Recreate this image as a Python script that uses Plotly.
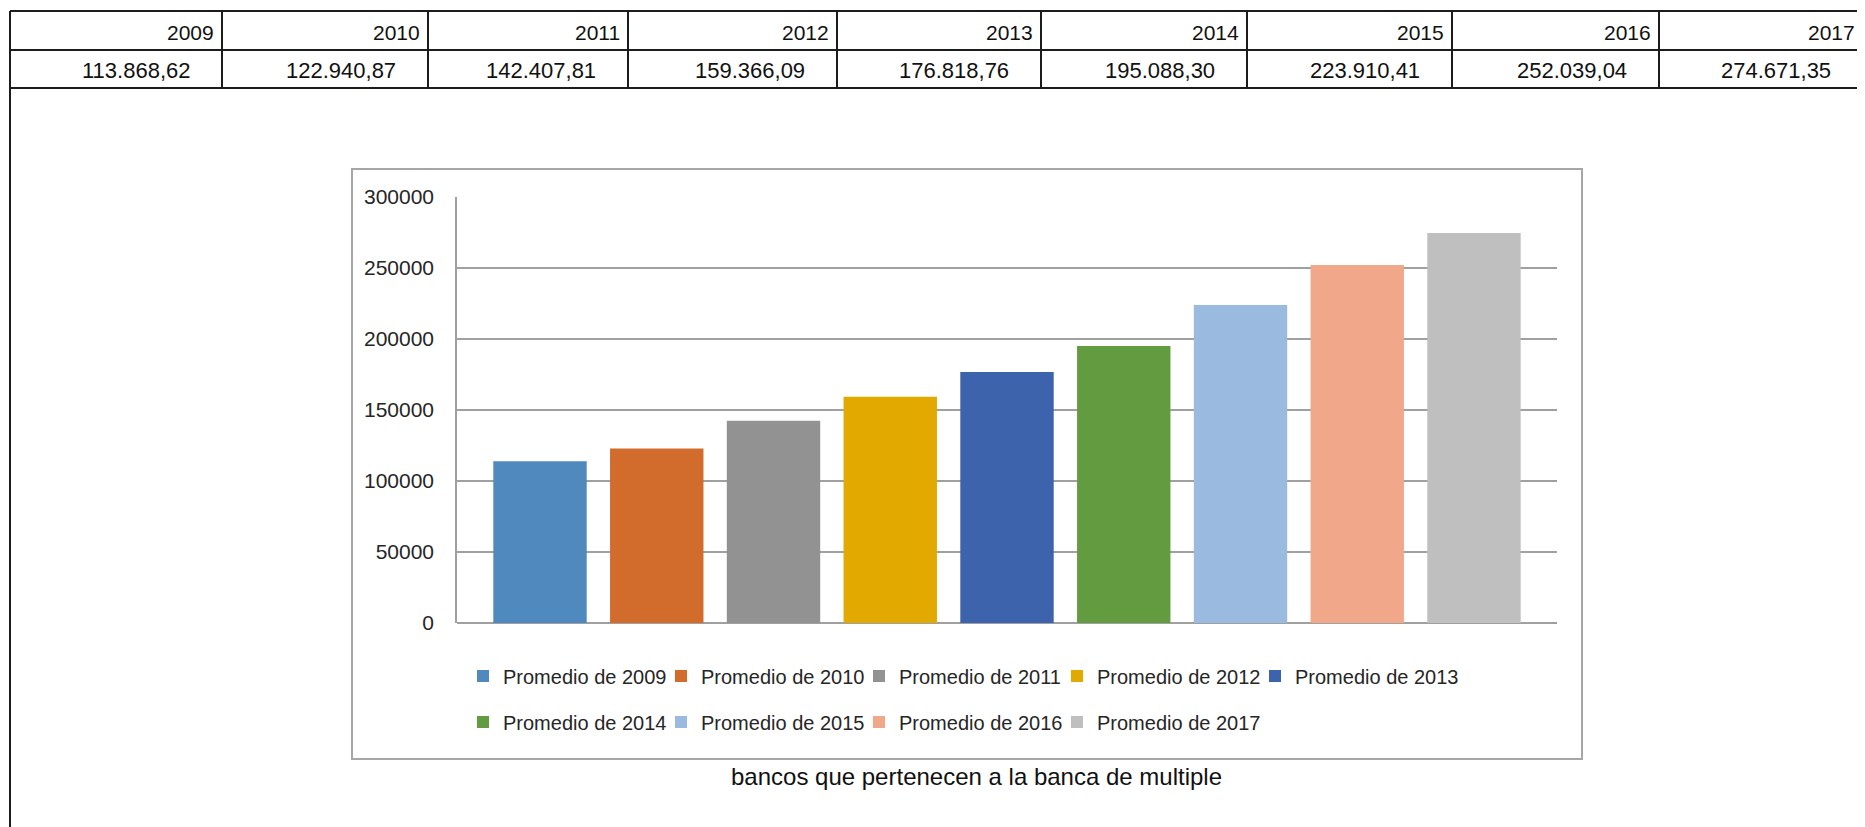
import plotly.graph_objects as go

# ---------------- data ----------------
years = ["2009", "2010", "2011", "2012", "2013", "2014", "2015", "2016", "2017"]
promedios = [113868.62, 122940.87, 142407.81, 159366.09, 176818.76,
             195088.30, 223910.41, 252039.04, 274671.35]
series_names = ["Promedio de " + y for y in years]
x_label = "bancos que pertenecen a la banca de multiple"
y_ticks = [0, 50000, 100000, 150000, 200000, 250000, 300000]

# ---------------- style ----------------
colors = ["#4f89bd", "#d26c2c", "#929292", "#e2aa00", "#3c63ac",
          "#629b40", "#9bbae0", "#f1a88a", "#bfbfbf"]
FONT = "Liberation Sans, Arial, sans-serif"
TXT = "#262626"
GRID = "#a0a0a0"

OFF = 8                       # page body margin
W, H = 1865 - OFF, 827 - OFF  # figure size
PL, PR, PT, PB = 457, 1557, 197, 623   # plot area in page pixels


def px(x):
    return (x - PL) / (PR - PL)


def py(y):
    return (PB - y) / (PB - PT)


def fmt_es(v):
    s = f"{v:,.2f}"
    return s.replace(",", "X").replace(".", ",").replace("X", ".")


# legend layout: 5 entries on the first row, 4 on the second
LEG_X0, LEG_STEP = 463, 198
LEG_ROWS_Y = [676, 722]
PER_ROW = 5

legend_common = dict(orientation="h", xref="paper", yref="paper",
                     xanchor="left", yanchor="middle",
                     font=dict(family=FONT, size=20, color=TXT),
                     bgcolor="rgba(0,0,0,0)", borderwidth=0,
                     itemclick=False, itemdoubleclick=False)

fig = go.Figure()
legend_layouts = {}
for i, (name, yr, val) in enumerate(zip(series_names, years, promedios)):
    key = "legend" if i == 0 else f"legend{i + 1}"
    row, colpos = divmod(i, PER_ROW)
    legend_layouts[key] = dict(x=px(LEG_X0 + LEG_STEP * colpos),
                               y=py(LEG_ROWS_Y[row]), **legend_common)
    fig.add_trace(go.Bar(
        x=[yr], y=[val], name=name, width=0.8,
        marker=dict(color=colors[i], line=dict(width=0)),
        legend=key,
    ))

shapes = []
# chart frame
shapes.append(dict(type="rect", xref="paper", yref="paper",
                   x0=px(352), x1=px(1582), y0=py(169), y1=py(759),
                   line=dict(color="#a6a6a6", width=2), layer="below"))

# spreadsheet table above the chart
col_edges = [10, 222, 428, 628, 837, 1041, 1247, 1452, 1659, 1863]
row_edges = [11, 50, 88]
LC = "#1c1c1c"
for yv in row_edges:
    shapes.append(dict(type="line", xref="paper", yref="paper",
                       x0=px(col_edges[0]), x1=px(col_edges[-1]),
                       y0=py(yv), y1=py(yv), line=dict(color=LC, width=2)))
for j, xv in enumerate(col_edges):
    y_end = 830 if j in (0, len(col_edges) - 1) else row_edges[-1]
    shapes.append(dict(type="line", xref="paper", yref="paper",
                       x0=px(xv), x1=px(xv), y0=py(row_edges[0]), y1=py(y_end),
                       line=dict(color=LC, width=2)))

annotations = []
for j, (yr, val) in enumerate(zip(years, promedios)):
    right = col_edges[j + 1]
    annotations.append(dict(xref="paper", yref="paper", x=px(right - 6), y=py(32),
                            text=yr, showarrow=False, xanchor="right", yanchor="middle",
                            font=dict(family=FONT, size=21, color="#111111")))
    annotations.append(dict(xref="paper", yref="paper", x=px(right - 30), y=py(70),
                            text=fmt_es(val), showarrow=False, xanchor="right",
                            yanchor="middle",
                            font=dict(family=FONT, size=22, color="#111111")))

annotations.append(dict(xref="paper", yref="paper", x=px(976), y=py(776),
                        text=x_label, showarrow=False, xanchor="center", yanchor="middle",
                        font=dict(family=FONT, size=24, color="#111111")))

fig.update_layout(
    width=W, height=H,
    margin=dict(l=PL - OFF, r=W - (PR - OFF), t=PT - OFF, b=H - (PB - OFF), pad=0),
    paper_bgcolor="white", plot_bgcolor="white",
    barmode="overlay",
    showlegend=True,
    xaxis=dict(type="category", categoryorder="array", categoryarray=years,
               range=[-0.711, 8.711], showticklabels=False, showgrid=False,
               zeroline=False, showline=False, ticks=""),
    yaxis=dict(range=[0, 300000], tickvals=y_ticks, ticktext=[str(v) for v in y_ticks],
               showgrid=True, gridcolor=GRID, gridwidth=1.5,
               zeroline=True, zerolinecolor=GRID, zerolinewidth=1.5,
               showline=True, linecolor=GRID, linewidth=1.5,
               ticks="", ticklabelstandoff=17,
               tickfont=dict(family=FONT, size=21, color=TXT)),
    shapes=shapes,
    annotations=annotations,
    **legend_layouts,
)

fig.write_html("out.html")
